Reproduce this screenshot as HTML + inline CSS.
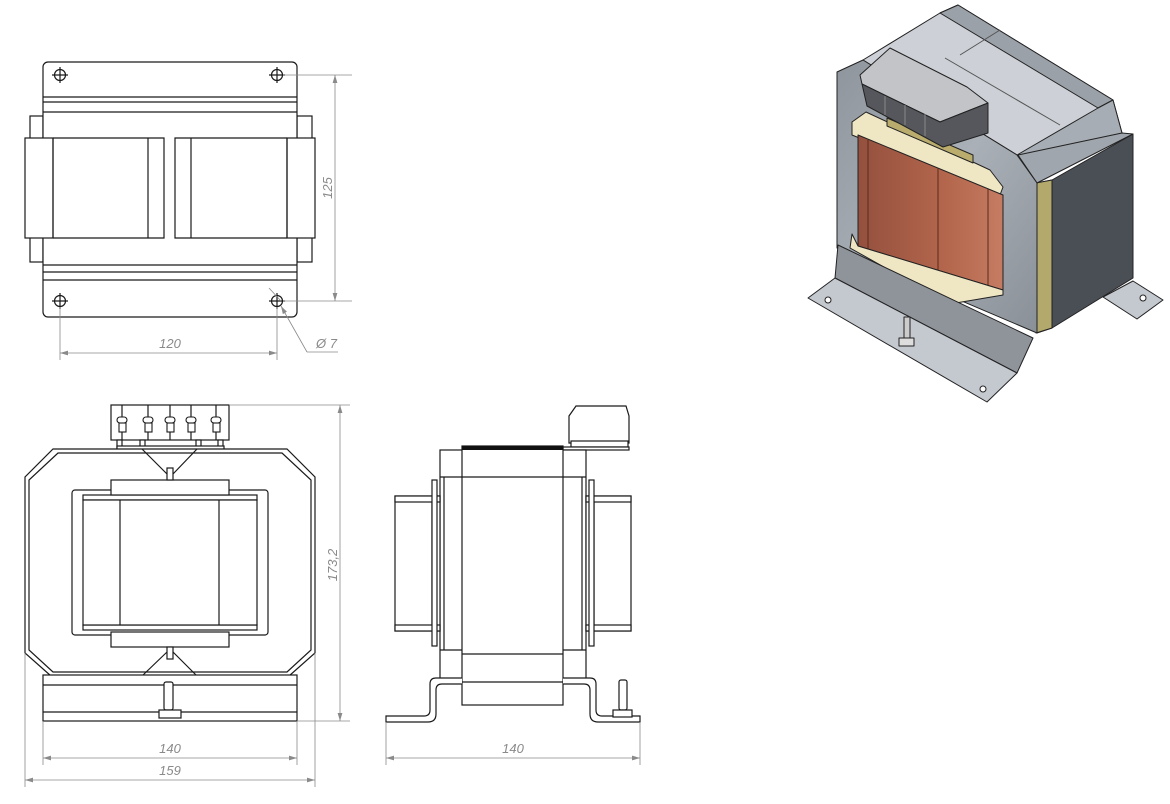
<!DOCTYPE html>
<html><head><meta charset="utf-8"><style>
html,body{margin:0;padding:0;background:#fff;}
svg{display:block;}
.l{fill:none;stroke:#1a1a1a;stroke-width:1.2;}
.w{fill:#fff;stroke:#1a1a1a;stroke-width:1.2;}
.d{fill:none;stroke:#8a8a8a;stroke-width:0.8;}
.t{font-family:"Liberation Sans",sans-serif;font-size:13px;font-style:italic;fill:#8a8a8a;}
</style></head><body>
<svg width="1170" height="804" viewBox="0 0 1170 804" xmlns="http://www.w3.org/2000/svg">
<defs>
<marker id="a" viewBox="0 0 10 6" refX="10" refY="3" markerWidth="10" markerHeight="6" orient="auto-start-reverse"><path d="M0,0 L10,3 L0,6 z" fill="#8a8a8a"/></marker>
<linearGradient id="g1" x1="0" y1="0" x2="1" y2="1"><stop offset="0" stop-color="#8f959c"/><stop offset="0.5" stop-color="#aab0b7"/><stop offset="1" stop-color="#8a9097"/></linearGradient>
<linearGradient id="cu" x1="0" y1="0" x2="1" y2="0"><stop offset="0" stop-color="#94503e"/><stop offset="0.6" stop-color="#b3664c"/><stop offset="1" stop-color="#c57c62"/></linearGradient>
</defs>

<!-- ========== TOP VIEW ========== -->
<rect x="30" y="116" width="13" height="146" class="w"/>
<rect x="297" y="116" width="15" height="146" class="w"/>
<rect x="43" y="62" width="254" height="255" rx="5" class="w"/>
<line x1="43" y1="97" x2="297" y2="97" class="l"/>
<line x1="43" y1="102" x2="297" y2="102" class="l"/>
<line x1="43" y1="112" x2="297" y2="112" class="l"/>
<line x1="43" y1="265" x2="297" y2="265" class="l"/>
<line x1="43" y1="272" x2="297" y2="272" class="l"/>
<line x1="43" y1="280" x2="297" y2="280" class="l"/>
<rect x="25" y="138" width="290" height="100" fill="#fff" stroke="none"/>
<rect x="25" y="138" width="28" height="100" class="w"/>
<rect x="287" y="138" width="28" height="100" class="w"/>
<path d="M53 138 H164 V238 H53" class="l"/>
<line x1="148" y1="138" x2="148" y2="238" class="l"/>
<path d="M287 138 H175 V238 H287" class="l"/>
<line x1="191" y1="138" x2="191" y2="238" class="l"/>
<line x1="53" y1="138" x2="53" y2="238" class="l" stroke-width="2"/>
<line x1="287" y1="138" x2="287" y2="238" class="l" stroke-width="2"/>
<g class="l">
<circle cx="60" cy="75" r="5.5"/><path d="M52 75 H68 M60 67 V83"/>
<circle cx="277" cy="75" r="5.5"/><path d="M269 75 H285 M277 67 V83"/>
<circle cx="60" cy="301" r="5.5"/><path d="M52 301 H68 M60 293 V309"/>
<circle cx="277" cy="301" r="5.5"/><path d="M269 301 H285 M277 293 V309"/>
</g>
<path d="M283 75 H352 M283 301 H352" class="d"/>
<line x1="335" y1="75" x2="335" y2="301" class="d" marker-start="url(#a)" marker-end="url(#a)"/>
<text class="t" transform="translate(332,188) rotate(-90)" text-anchor="middle">125</text>
<path d="M60 307 V360 M277 307 V360" class="d"/>
<line x1="60" y1="353" x2="277" y2="353" class="d" marker-start="url(#a)" marker-end="url(#a)"/>
<text class="t" x="170" y="348" text-anchor="middle">120</text>
<path d="M269 288 L281 301" class="d"/>
<path d="M307 352 L281 306" class="d" marker-end="url(#a)"/>
<path d="M307 352 H338" class="d"/>
<text class="t" x="316" y="348">Ø 7</text>

<!-- ========== FRONT VIEW ========== -->
<rect x="111" y="405" width="118" height="35" class="w"/>
<g class="l">
<path d="M122 405 V440 M148 405 V440 M170 405 V440 M191 405 V440 M216 405 V440"/>
</g>
<g fill="#fff" stroke="#1a1a1a" stroke-width="1.1">
<rect x="117" y="417" width="10" height="6" rx="3"/><rect x="119" y="423" width="7" height="9"/>
<rect x="143" y="417" width="10" height="6" rx="3"/><rect x="145" y="423" width="7" height="9"/>
<rect x="165" y="417" width="10" height="6" rx="3"/><rect x="167" y="423" width="7" height="9"/>
<rect x="186" y="417" width="10" height="6" rx="3"/><rect x="188" y="423" width="7" height="9"/>
<rect x="211" y="417" width="10" height="6" rx="3"/><rect x="213" y="423" width="7" height="9"/>
</g>
<rect x="117" y="440" width="5" height="8" class="w"/><rect x="140" y="440" width="5" height="8" class="w"/><rect x="196" y="440" width="5" height="8" class="w"/><rect x="218" y="440" width="5" height="8" class="w"/>
<rect x="117" y="446" width="107" height="4" class="w"/>
<path d="M53 449 H287 L315 477 V653 L289 676 H51 L25 653 V477 Z" class="w" stroke-width="1.6"/>
<path d="M58 453 H282 L311 480 V650 L287 672 H53 L29 650 V480 Z" class="l"/>
<rect x="72" y="490" width="196" height="145" rx="3" class="w"/>
<rect x="83" y="495" width="174" height="5" class="w"/>
<rect x="83" y="625" width="174" height="5" class="w"/>
<rect x="83" y="500" width="174" height="125" class="w"/>
<line x1="120" y1="500" x2="120" y2="625" class="l"/>
<line x1="219" y1="500" x2="219" y2="625" class="l"/>
<rect x="111" y="480" width="118" height="15" class="w"/>
<rect x="111" y="632" width="118" height="15" class="w"/>
<path d="M142 449 L167 474 M197 449 L173 474 M142 676 L167 652 M197 676 L173 652" class="l"/>
<rect x="167" y="468" width="6" height="12" class="w"/>
<rect x="167" y="647" width="6" height="12" class="w"/>
<rect x="43" y="675" width="254" height="46" class="w"/>
<line x1="43" y1="685" x2="297" y2="685" class="l"/>
<line x1="43" y1="712" x2="297" y2="712" class="l"/>
<rect x="164" y="682" width="9" height="28" rx="2" class="w"/>
<rect x="159" y="710" width="22" height="8" class="w"/>
<path d="M229 405 H350 M297 721 H350" class="d"/>
<line x1="340" y1="405" x2="340" y2="721" class="d" marker-start="url(#a)" marker-end="url(#a)"/>
<text class="t" transform="translate(337,565) rotate(-90)" text-anchor="middle">173,2</text>
<path d="M43 721 V765 M297 721 V765 M25 653 V787 M315 653 V787" class="d"/>
<line x1="43" y1="758" x2="297" y2="758" class="d" marker-start="url(#a)" marker-end="url(#a)"/>
<text class="t" x="170" y="753" text-anchor="middle">140</text>
<line x1="25" y1="780" x2="315" y2="780" class="d" marker-start="url(#a)" marker-end="url(#a)"/>
<text class="t" x="170" y="775" text-anchor="middle">159</text>

<!-- ========== SIDE VIEW ========== -->
<path d="M576 406 H626 L629 416 V443 H569 V416 Z" class="w"/>
<rect x="571" y="441" width="57" height="6" class="w"/>
<rect x="563" y="447" width="66" height="3" class="w"/>
<rect x="440" y="450" width="146" height="230" class="w"/>
<line x1="440" y1="477" x2="586" y2="477" class="l"/>
<line x1="440" y1="650" x2="586" y2="650" class="l"/>
<line x1="444" y1="477" x2="444" y2="650" class="l"/>
<line x1="582" y1="477" x2="582" y2="650" class="l"/>
<rect x="462" y="446" width="101" height="259" class="w"/>
<rect x="462" y="446" width="101" height="4" fill="#111"/>
<line x1="462" y1="477" x2="563" y2="477" class="l" stroke-width="2"/>
<line x1="462" y1="654" x2="563" y2="654" class="l" stroke-width="2"/>
<line x1="462" y1="682" x2="563" y2="682" class="l"/>
<rect x="395" y="496" width="45" height="135" class="w"/>
<rect x="395" y="496" width="45" height="6" class="w"/>
<rect x="395" y="625" width="45" height="6" class="w"/>
<line x1="432" y1="502" x2="432" y2="625" class="l"/>
<rect x="432" y="480" width="5" height="166" class="w"/>
<rect x="586" y="496" width="45" height="135" class="w"/>
<rect x="586" y="496" width="45" height="6" class="w"/>
<rect x="586" y="625" width="45" height="6" class="w"/>
<line x1="594" y1="502" x2="594" y2="625" class="l"/>
<rect x="589" y="480" width="5" height="166" class="w"/>
<path d="M462 678 H436 Q430 678 430 684 V710 Q430 716 424 716 H386 V722 H428 Q436 722 436 714 V690 Q436 684 442 684 H462" class="w"/>
<path d="M563 678 H590 Q596 678 596 684 V710 Q596 716 602 716 H640 V722 H598 Q590 722 590 714 V690 Q590 684 584 684 H563" class="w"/>
<rect x="619" y="680" width="8" height="30" rx="2" class="w"/>
<rect x="613" y="710" width="19" height="7" class="w"/>
<path d="M386 722 V765 M640 722 V765" class="d"/>
<line x1="386" y1="758" x2="640" y2="758" class="d" marker-start="url(#a)" marker-end="url(#a)"/>
<text class="t" x="513" y="753" text-anchor="middle">140</text>

<!-- ========== 3D VIEW ========== -->
<g stroke="#222" stroke-width="1" stroke-linejoin="round">
<!-- right foot -->
<polygon points="1103,297 1133,281 1163,300 1137,319" fill="#c4c8cf"/>
<!-- right face -->
<polygon points="1037,183 1052,180 1133,134 1133,278 1052,328 1037,333" fill="#4a4e55"/>
<polygon points="1036,183 1052,180 1052,328 1036,333" fill="#b3a96d"/>
<!-- top face -->
<polygon points="863,60 940,13 958,5 1113,100 1122,133 1037,183 1017,155" fill="#cdd1d7"/>
<polygon points="940,13 958,5 1113,100 1098,108" fill="#9ba1a8"/>
<polygon points="1017,155 1098,108 1113,100 1122,133 1037,183" fill="#a7adb4"/>
<polygon points="1018,155 1037,183 1133,134 1122,133" fill="#a0a6ad"/>
<line x1="945" y1="58" x2="1060" y2="125" stroke="#555"/>
<line x1="1000" y1="30" x2="960" y2="55" stroke="#555"/>
<!-- front face -->
<polygon points="837,72 863,60 1017,155 1037,183 1037,333 837,248" fill="url(#g1)"/>
<!-- coil top flange -->
<polygon points="852,122 866,112 990,170 1003,187 1000,195 852,135" fill="#efe6c4"/>
<!-- coil -->
<polygon points="858,135 1003,195 1003,290 858,246" fill="url(#cu)"/>
<line x1="868" y1="140" x2="868" y2="249" stroke="#5a2a1c"/>
<line x1="938" y1="168" x2="938" y2="270" stroke="#5a2a1c"/>
<line x1="988" y1="189" x2="988" y2="285" stroke="#5a2a1c"/>
<polygon points="852,234 858,246 1003,290 1003,295 950,304 850,248" fill="#efe6c4"/>
<!-- terminal bar -->
<polygon points="887,118 973,155 973,163 887,126" fill="#b9ac6c"/>
<!-- terminal block -->
<polygon points="860,75 890,48 967,87 988,103 940,122 862,84" fill="#c2c4c7"/>
<polygon points="862,84 940,122 988,103 988,133 943,147 867,106" fill="#55575c"/>
<line x1="885" y1="96" x2="885" y2="115" stroke="#888"/>
<line x1="905" y1="105" x2="905" y2="125" stroke="#888"/>
<line x1="925" y1="114" x2="925" y2="136" stroke="#888"/>
<!-- base bracket -->
<polygon points="838,245 1033,338 1017,373 835,278" fill="#8f949b"/>
<polygon points="835,278 1017,373 987,402 808,298" fill="#c4c8cf"/>
<rect x="904" y="317" width="6" height="22" fill="#ccc"/>
<rect x="899" y="338" width="15" height="8" fill="#ddd"/>
<circle cx="828" cy="300" r="3" fill="#fff"/><circle cx="983" cy="389" r="3" fill="#fff"/><circle cx="1143" cy="298" r="3" fill="#fff"/>
</g>
</svg>
</body></html>
